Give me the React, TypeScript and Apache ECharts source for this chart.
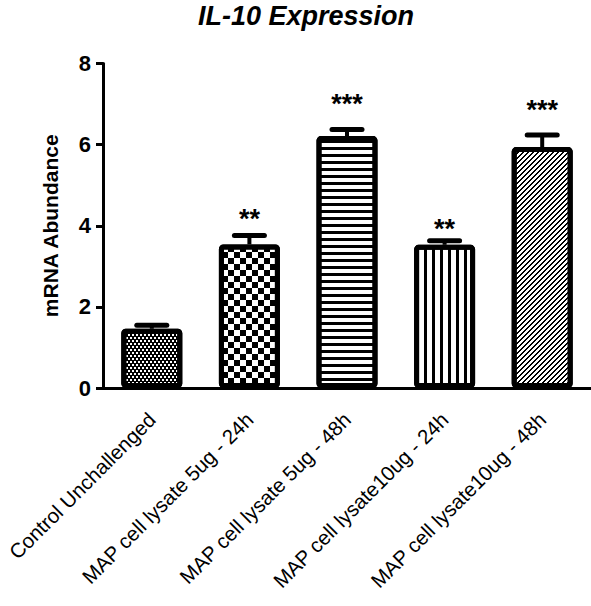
import React, { useEffect, useRef } from "react";
import * as echarts from "echarts";

const categories = [
  "Control Unchallenged",
  "MAP cell lysate 5ug - 24h",
  "MAP cell lysate 5ug - 48h",
  "MAP cell lysate10ug - 24h",
  "MAP cell lysate10ug - 48h",
];
const means = [1.46, 3.54, 6.21, 3.53, 5.94];
const sems = [0.09, 0.22, 0.16, 0.1, 0.3];
const stars = ["", "**", "***", "**", "***"];
const starY = [0, 4.26, 7.09, 4.01, 6.95];
const yTicks = { min: 0, max: 8, interval: 2 };

const FONT = '"Liberation Sans", Arial, Helvetica, sans-serif';

const decals: any[] = [
  {
    symbol: "rect",
    symbolSize: 1,
    color: "#000",
    dashArrayX: [[1, 0], [2, 2], [1, 0], [0, 2, 2, 0]],
    dashArrayY: [1, 0, 2, 0, 1, 0, 2, 0],
  },
  {
    symbol: "rect",
    symbolSize: 1,
    color: "#000",
    dashArrayX: [[6, 6], [0, 6, 6, 0]],
    dashArrayY: [6, 0],
  },
  {
    symbol: "rect",
    symbolSize: 1,
    color: "#000",
    dashArrayX: [1, 0],
    dashArrayY: [3, 4],
  },
  {
    symbol: "rect",
    symbolSize: 1,
    color: "#000",
    dashArrayX: [3, 5],
    dashArrayY: [1, 0],
  },
  {
    symbol: "rect",
    symbolSize: 1,
    color: "#000",
    dashArrayX: [[2, 3], [1, 3, 1, 0], [0, 3, 2, 0], [0, 2, 2, 1], [0, 1, 2, 2]],
    dashArrayY: [1, 0],
  },
];

export default function App() {
  const ref = useRef<HTMLDivElement>(null);
  useEffect(() => {
    if (!ref.current) return;
    const chart = echarts.init(ref.current, null, { renderer: "svg" });
    const option: any = {
      animation: false,
      backgroundColor: "#fff",
      textStyle: { fontFamily: FONT },
      title: {
        text: "IL-10 Expression",
        left: 301,
        textAlign: "center",
        top: -3,
        textStyle: {
          fontFamily: FONT,
          fontSize: 27,
          fontWeight: "bold",
          fontStyle: "italic",
          color: "#000",
        },
      },
      grid: {
        left: 103,
        right: 0,
        top: 63.5,
        bottom: 218,
        containLabel: false,
        outerBoundsMode: "none",
      },
      xAxis: {
        type: "category",
        data: categories,
        axisLine: { lineStyle: { color: "#000", width: 3 } },
        axisTick: { alignWithLabel: true, length: 8, lineStyle: { color: "#000", width: 3 } },
        axisLabel: {
          rotate: 45,
          interval: 0,
          fontSize: 20.5,
          margin: 28,
          color: "#000",
          fontFamily: FONT,
        },
      },
      yAxis: {
        type: "value",
        min: yTicks.min,
        max: yTicks.max,
        interval: yTicks.interval,
        name: "mRNA Abundance",
        nameLocation: "middle",
        nameGap: 42,
        nameTextStyle: { fontSize: 21, fontWeight: "bold", color: "#000", fontFamily: FONT },
        axisLine: { show: true, lineStyle: { color: "#000", width: 3 } },
        axisTick: { show: true, length: 7, lineStyle: { color: "#000", width: 3 } },
        splitLine: { show: false },
        axisLabel: { fontSize: 22, fontWeight: "bold", color: "#000", margin: 12, fontFamily: FONT },
      },
      series: [
        {
          type: "bar",
          barWidth: 61,
          data: means.map((v, i) => ({
            value: v,
            itemStyle: {
              color: "#fff",
              borderColor: "#000",
              borderWidth: 5,
              borderRadius: 2,
              decal: decals[i],
            },
          })),
          z: 2,
        },
        {
          type: "custom",
          z: 3,
          data: means.map((v, i) => [i, v, sems[i], starY[i]]),
          renderItem: (params: any, api: any) => {
            const x = api.value(0);
            const v = api.value(1);
            const e = api.value(2);
            const sy = api.value(3);
            const base = api.coord([x, v]);
            const top = api.coord([x, v + e]);
            const children: any[] = [
              {
                type: "line",
                shape: { x1: base[0], y1: base[1], x2: top[0], y2: top[1] },
                style: { stroke: "#000", lineWidth: 4 },
              },
              {
                type: "line",
                shape: { x1: top[0] - 15, y1: top[1], x2: top[0] + 15, y2: top[1] },
                style: { stroke: "#000", lineWidth: 5, lineCap: "round" },
              },
            ];
            const label = stars[params.dataIndex];
            if (label) {
              const sp = api.coord([x, sy]);
              children.push({
                type: "text",
                x: sp[0],
                y: sp[1] + 4,
                style: {
                  text: label,
                  font: `bold 27px ${FONT}`,
                  fill: "#000",
                  align: "center",
                  verticalAlign: "middle",
                },
              });
            }
            return { type: "group", children };
          },
        },
      ],
    };
    chart.setOption(option);
    return () => chart.dispose();
  }, []);
  return (
    <div
      ref={ref}
      style={{ position: "fixed", left: 0, top: 0, width: 591, height: 606 }}
    />
  );
}
